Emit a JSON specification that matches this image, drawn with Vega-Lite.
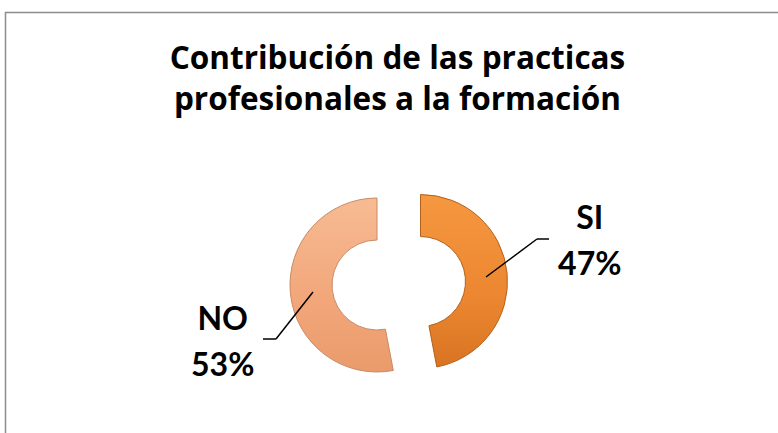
{
  "$schema": "https://vega.github.io/schema/vega-lite/v6.json",
  "width": 773,
  "height": 421,
  "autosize": {"type": "none"},
  "padding": {"left": 5, "top": 12, "right": 0, "bottom": 0},
  "background": "white",
  "config": {"view": {"stroke": null}, "font": "Lato"},
  "title": {
    "text": ["Contribución de las practicas", "profesionales a la formación"],
    "font": "Open Sans",
    "fontSize": 31.5,
    "fontWeight": "bold",
    "color": "#000000",
    "lineHeight": 41,
    "anchor": "middle",
    "baseline": "top",
    "offset": -30,
    "dx": 6,
    "dy": 75
  },
  "data": {
    "values": [
      {"respuesta": "SI", "porcentaje": 0.47},
      {"respuesta": "NO", "porcentaje": 0.53}
    ]
  },
  "layer": [
    {
      "mark": {
        "type": "arc", "innerRadius": 45, "outerRadius": 87, "xOffset": 29, "yOffset": 59,
        "fill": {"gradient": "linear", "x1": 0, "y1": 0, "x2": 0, "y2": 1,
          "stops": [{"offset": 0, "color": "#F5983F"}, {"offset": 0.6, "color": "#EC8630"}, {"offset": 1, "color": "#D87422"}]},
        "stroke": "#B2621E", "strokeWidth": 1
      },
      "encoding": {
        "theta": {"field": "porcentaje", "type": "quantitative", "stack": true},
        "order": {"field": "respuesta", "type": "ordinal", "sort": "descending"},
        "detail": {"field": "respuesta", "type": "nominal"},
        "opacity": {"condition": {"test": "datum.respuesta === 'SI'", "value": 1}, "value": 0}
      }
    },
    {
      "mark": {
        "type": "arc", "innerRadius": 45, "outerRadius": 87, "xOffset": -14.5, "yOffset": 62.5,
        "fill": {"gradient": "linear", "x1": 0, "y1": 0, "x2": 0, "y2": 1,
          "stops": [{"offset": 0, "color": "#F7BB93"}, {"offset": 0.6, "color": "#F2A679"}, {"offset": 1, "color": "#EA9B6C"}]},
        "stroke": "#C88A64", "strokeWidth": 1
      },
      "encoding": {
        "theta": {"field": "porcentaje", "type": "quantitative", "stack": true},
        "order": {"field": "respuesta", "type": "ordinal", "sort": "descending"},
        "detail": {"field": "respuesta", "type": "nominal"},
        "opacity": {"condition": {"test": "datum.respuesta === 'NO'", "value": 1}, "value": 0}
      }
    },
    {
      "mark": {"type": "text", "radius": 170, "xOffset": 29, "yOffset": 59, "dy": -36.5, "font": "Lato", "fontSize": 32, "fontWeight": "bold", "color": "#000000", "align": "center", "baseline": "alphabetic"},
      "encoding": {
        "theta": {"field": "porcentaje", "type": "quantitative", "stack": true},
        "order": {"field": "respuesta", "type": "ordinal", "sort": "descending"},
        "detail": {"field": "respuesta", "type": "nominal"},
        "text": {"condition": {"test": "datum.respuesta === 'SI'", "field": "respuesta", "type": "nominal"}, "value": ""}
      }
    },
    {
      "mark": {"type": "text", "radius": 170, "xOffset": 29, "yOffset": 59, "dy": 9.5, "font": "Lato", "fontSize": 32, "fontWeight": "bold", "color": "#000000", "align": "center", "baseline": "alphabetic"},
      "encoding": {
        "theta": {"field": "porcentaje", "type": "quantitative", "stack": true},
        "order": {"field": "respuesta", "type": "ordinal", "sort": "descending"},
        "detail": {"field": "respuesta", "type": "nominal"},
        "text": {"condition": {"test": "datum.respuesta === 'SI'", "field": "porcentaje", "type": "quantitative", "format": ".0%"}, "value": ""}
      }
    },
    {
      "mark": {"type": "text", "radius": 155, "xOffset": -14.5, "yOffset": 62.5, "dy": 30.4, "font": "Lato", "fontSize": 32, "fontWeight": "bold", "color": "#000000", "align": "center", "baseline": "alphabetic"},
      "encoding": {
        "theta": {"field": "porcentaje", "type": "quantitative", "stack": true},
        "order": {"field": "respuesta", "type": "ordinal", "sort": "descending"},
        "detail": {"field": "respuesta", "type": "nominal"},
        "text": {"condition": {"test": "datum.respuesta === 'NO'", "field": "respuesta", "type": "nominal"}, "value": ""}
      }
    },
    {
      "mark": {"type": "text", "radius": 155, "xOffset": -14.5, "yOffset": 62.5, "dy": 76.4, "font": "Lato", "fontSize": 32, "fontWeight": "bold", "color": "#000000", "align": "center", "baseline": "alphabetic"},
      "encoding": {
        "theta": {"field": "porcentaje", "type": "quantitative", "stack": true},
        "order": {"field": "respuesta", "type": "ordinal", "sort": "descending"},
        "detail": {"field": "respuesta", "type": "nominal"},
        "text": {"condition": {"test": "datum.respuesta === 'NO'", "field": "porcentaje", "type": "quantitative", "format": ".0%"}, "value": ""}
      }
    },
    {
      "data": {"values": [{}]},
      "mark": {"type": "rule", "color": "#000000", "strokeWidth": 1.5},
      "encoding": {"x": {"value": 481}, "y": {"value": 265}, "x2": {"value": 532}, "y2": {"value": 227}}
    },
    {
      "data": {"values": [{}]},
      "mark": {"type": "rule", "color": "#000000", "strokeWidth": 1.5},
      "encoding": {"x": {"value": 532}, "y": {"value": 227}, "x2": {"value": 544}, "y2": {"value": 227}}
    },
    {
      "data": {"values": [{}]},
      "mark": {"type": "rule", "color": "#000000", "strokeWidth": 1.5},
      "encoding": {"x": {"value": 308}, "y": {"value": 280}, "x2": {"value": 271}, "y2": {"value": 327}}
    },
    {
      "data": {"values": [{}]},
      "mark": {"type": "rule", "color": "#000000", "strokeWidth": 1.5},
      "encoding": {"x": {"value": 271}, "y": {"value": 327}, "x2": {"value": 258}, "y2": {"value": 327}}
    },
    {
      "data": {"values": [{}]},
      "mark": {"type": "rule", "color": "#8C8C8C", "strokeWidth": 1.5},
      "encoding": {"x": {"value": 0.5}, "y": {"value": 0}, "y2": {"value": 421}}
    },
    {
      "data": {"values": [{}]},
      "mark": {"type": "rule", "color": "#8C8C8C", "strokeWidth": 1.5},
      "encoding": {"x": {"value": 0}, "x2": {"value": 773}, "y": {"value": 0.5}}
    }
  ]
}
